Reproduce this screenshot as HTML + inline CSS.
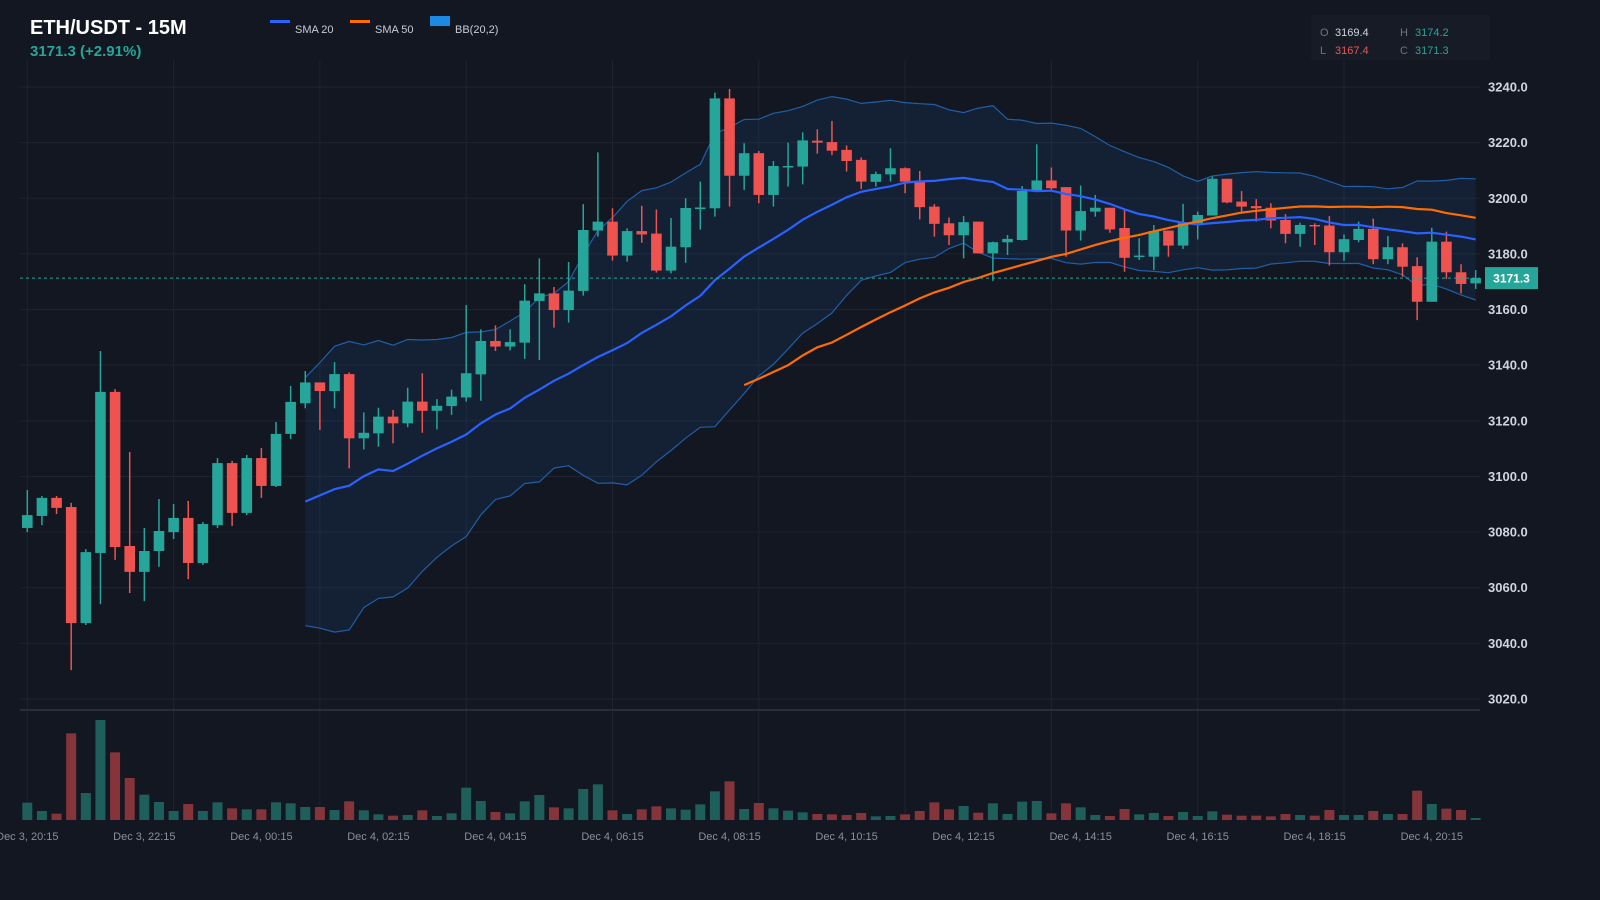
<!DOCTYPE html>
<html><head><meta charset="utf-8"><title>ETH/USDT - 15M</title>
<style>
html,body{margin:0;padding:0;background:#131722;}
svg{display:block;font-family:"Liberation Sans",sans-serif;}
</style></head>
<body>
<svg id="chart" width="1600" height="900" viewBox="0 0 1600 900">
<rect x="0" y="0" width="1600" height="900" fill="#131722"/>
<g id="grid"></g>
<g id="bands"></g>
<g id="volume"></g>
<g id="candles"></g>
<g id="lines"></g>
<g id="axes"></g>
<text x="30" y="34" fill="#ffffff" font-size="20" font-weight="bold">ETH/USDT - 15M</text>
<text x="30" y="56" fill="#26a69a" font-size="15" font-weight="bold">3171.3 (+2.91%)</text>
<g>
<g><rect x="270" y="20" width="20" height="3" fill="#2962ff"/><text x="295" y="33" fill="#c9ccd4" font-size="11">SMA 20</text></g>
<g><rect x="350" y="20" width="20" height="3" fill="#ff6d00"/><text x="375" y="33" fill="#c9ccd4" font-size="11">SMA 50</text></g>
<g><rect x="430" y="16" width="20" height="10" fill="#1e88e5"/><text x="455" y="33" fill="#c9ccd4" font-size="11">BB(20,2)</text></g>
</g>
<g>
<rect x="1311" y="15" width="179" height="45" fill="#171b26"/>
<text x="1320" y="36" fill="#6f7480" font-size="11">O</text><text x="1335" y="36" fill="#d1d4dc" font-size="11">3169.4</text>
<text x="1400" y="36" fill="#6f7480" font-size="11">H</text><text x="1415" y="36" fill="#26a69a" font-size="11">3174.2</text>
<text x="1320" y="54" fill="#6f7480" font-size="11">L</text><text x="1335" y="54" fill="#ef5350" font-size="11">3167.4</text>
<text x="1400" y="54" fill="#6f7480" font-size="11">C</text><text x="1415" y="54" fill="#26a69a" font-size="11">3171.3</text>
</g>
</svg>
<script>
const opens=[3081.5,3085.8,3092.3,3089.0,3047.3,3072.5,3130.4,3075.0,3065.7,3073.2,3080.0,3085.1,3068.9,3082.5,3104.8,3086.9,3106.6,3096.6,3115.3,3126.3,3133.8,3130.7,3136.8,3113.7,3115.5,3121.5,3119.1,3126.9,3123.6,3125.3,3128.4,3136.7,3148.7,3146.7,3148.1,3163.1,3165.8,3159.8,3166.7,3188.4,3191.6,3179.4,3188.2,3187.3,3174.0,3182.4,3196.1,3196.4,3235.9,3208.1,3216.2,3201.2,3211.1,3211.4,3220.7,3220.2,3217.4,3213.8,3205.9,3208.6,3210.8,3206.0,3197.0,3191.0,3186.7,3191.6,3180.2,3184.2,3185.0,3202.6,3206.4,3204.0,3188.4,3195.2,3196.6,3189.3,3179.0,3179.0,3188.4,3183.0,3191.0,3193.8,3207.0,3198.8,3197.2,3196.6,3192.2,3187.2,3190.4,3190.2,3180.6,3185.0,3189.0,3178.1,3182.4,3175.6,3162.8,3184.4,3173.4,3169.4];
const highs=[3095.1,3093.0,3093.0,3090.5,3073.9,3145.1,3131.4,3108.8,3081.5,3091.9,3090.1,3091.2,3083.6,3106.6,3105.6,3107.7,3110.2,3119.6,3132.5,3137.9,3133.8,3141.1,3137.4,3123.0,3124.7,3123.9,3131.9,3137.1,3127.8,3131.2,3161.6,3152.9,3154.3,3152.9,3169.1,3178.4,3168.1,3177.1,3197.9,3216.5,3196.4,3189.2,3197.3,3196.0,3192.9,3200.0,3206.0,3238.0,3239.3,3219.8,3217.0,3213.4,3220.0,3223.7,3224.8,3227.8,3219.0,3214.7,3209.6,3218.0,3211.1,3209.8,3197.9,3193.1,3193.6,3191.6,3184.4,3186.8,3204.4,3219.4,3211.1,3204.0,3204.6,3201.2,3196.6,3195.8,3185.6,3190.4,3188.4,3198.0,3195.2,3207.8,3207.0,3202.6,3199.7,3198.2,3194.3,3191.2,3191.0,3193.6,3187.0,3191.6,3192.7,3186.4,3183.8,3178.8,3189.4,3188.0,3176.3,3174.2];
const lows=[3080.0,3082.5,3086.5,3030.4,3046.6,3054.1,3070.0,3058.1,3055.2,3067.5,3077.5,3063.1,3068.2,3081.5,3082.2,3086.1,3092.3,3096.2,3113.5,3124.5,3116.7,3124.5,3102.9,3109.7,3110.7,3111.9,3117.7,3115.7,3116.9,3122.1,3126.9,3127.2,3145.1,3145.3,3142.3,3141.9,3153.5,3155.3,3165.0,3186.2,3177.6,3177.2,3184.0,3173.3,3173.0,3176.8,3188.7,3193.4,3197.0,3203.0,3198.2,3197.0,3204.2,3205.0,3216.0,3215.5,3209.6,3203.3,3204.2,3206.0,3201.8,3192.4,3186.2,3183.2,3178.4,3180.2,3170.3,3179.6,3184.8,3202.6,3203.0,3179.0,3184.8,3193.4,3187.6,3173.6,3177.8,3174.2,3179.0,3181.8,3185.2,3193.8,3198.2,3195.2,3191.6,3189.2,3183.8,3182.6,3183.2,3175.8,3177.5,3184.2,3176.3,3176.3,3171.8,3156.2,3162.8,3171.0,3165.8,3167.4];
const closes=[3086.1,3092.3,3088.7,3047.3,3072.8,3130.4,3074.6,3065.7,3073.2,3080.4,3085.1,3068.9,3082.9,3104.8,3086.9,3106.6,3096.6,3115.3,3126.8,3133.8,3130.7,3136.8,3113.7,3115.7,3121.5,3119.1,3126.9,3123.6,3125.4,3128.7,3137.1,3148.7,3146.7,3148.3,3163.2,3165.8,3159.8,3166.8,3188.6,3191.6,3179.4,3188.2,3187.0,3174.0,3182.6,3196.5,3196.7,3235.9,3208.1,3216.2,3201.2,3211.6,3211.6,3220.8,3220.0,3217.1,3213.4,3206.0,3208.7,3210.8,3206.0,3196.8,3190.8,3186.7,3191.4,3180.2,3184.2,3185.4,3202.6,3206.4,3203.6,3188.4,3195.4,3196.6,3188.8,3178.6,3179.4,3188.2,3183.0,3191.0,3194.0,3207.0,3198.5,3197.0,3196.4,3192.0,3187.2,3190.4,3190.0,3180.6,3185.3,3189.0,3178.1,3182.4,3175.4,3162.8,3184.4,3173.4,3169.2,3171.3];
const volumes=[52,27,19,260,81,300,203,126,76,54,27,48,27,53,35,32,32,53,50,39,39,30,56,29,17,13,15,29,12,20,97,57,24,20,56,75,38,35,93,107,29,18,32,41,35,31,47,86,116,33,51,35,28,23,18,17,15,21,11,12,17,27,53,32,42,22,50,18,55,57,20,50,38,15,12,33,17,21,12,24,12,26,16,13,13,11,18,15,13,30,15,15,27,18,18,88,48,34,30,6];
const priceTicks=[3020,3040,3060,3080,3100,3120,3140,3160,3180,3200,3220,3240];
const timeLabels=["Dec 3, 20:15","Dec 3, 22:15","Dec 4, 00:15","Dec 4, 02:15","Dec 4, 04:15","Dec 4, 06:15","Dec 4, 08:15","Dec 4, 10:15","Dec 4, 12:15","Dec 4, 14:15","Dec 4, 16:15","Dec 4, 18:15","Dec 4, 20:15"];
const lastPrice=3171.3;

const NS="http://www.w3.org/2000/svg";
const X0=27.3, DX=14.63;
function xAt(i){return X0+i*DX;}
function yAt(p){return 87+(3240-p)*2.7818;}
const VOL_BASE=820, VOL_H=100;
const vmax=Math.max(...volumes);
function vh(v){return v/vmax*VOL_H;}
function mk(tag,attrs,parent){const e=document.createElementNS(NS,tag);for(const k in attrs)e.setAttribute(k,attrs[k]);parent.appendChild(e);return e;}
const G=id=>document.getElementById(id);

// grid
const grid=G('grid');
priceTicks.forEach(p=>{
  const l=mk('line',{x1:20,x2:1480,y1:yAt(p),y2:yAt(p),stroke:'#1f2330','stroke-width':1},grid);
  
  
});
for(let i=0;i<closes.length;i+=10){
  const l=mk('line',{x1:xAt(i),x2:xAt(i),y1:60,y2:820,stroke:'#1f2330','stroke-width':1},grid);
  
  
}
const div=mk('line',{x1:20,x2:1480,y1:710,y2:710,stroke:'#2a2e39','stroke-width':2},grid);



// indicators
function sma(n){return closes.map((c,i)=>{if(i<n-1)return null;let s=0;for(let k=i-n+1;k<=i;k++)s+=closes[k];return s/n;});}
const s20=sma(20), s50=sma(50);
const up=[],lo=[];
closes.forEach((c,i)=>{if(s20[i]==null){up.push(null);lo.push(null);return;}let v=0;for(let k=i-19;k<=i;k++)v+=(closes[k]-s20[i])**2;const sd=Math.sqrt(v/20);up.push(s20[i]+2*sd);lo.push(s20[i]-2*sd);});
function pts(arr){const r=[];arr.forEach((v,i)=>{if(v!=null)r.push(xAt(i).toFixed(1)+','+yAt(v).toFixed(1));});return r;}
const bands=G('bands');
const upP=pts(up), loP=pts(lo);
const fill=mk('polygon',{points:upP.concat(loP.slice().reverse()).join(' '),fill:'rgba(30,130,230,0.09)'},bands);


const ub=mk('polyline',{points:upP.join(' '),fill:'none',stroke:'#1f5fa8','stroke-width':1.2},bands);


const lb=mk('polyline',{points:loP.join(' '),fill:'none',stroke:'#1f5fa8','stroke-width':1.2},bands);



// volume
const vol=G('volume');
volumes.forEach((v,i)=>{
  const upc=closes[i]>=opens[i];
  const r=mk('rect',{x:xAt(i)-5,y:VOL_BASE-vh(v),width:10,height:vh(v),fill:upc?'#1f5f5b':'#853439'},vol);
  
  
});

// candles
const cg=G('candles');
closes.forEach((c,i)=>{
  const o=opens[i], upc=c>=o, col=upc?'#26a69a':'#ef5350';
  const g=mk('g',{},cg);
  
  
  mk('line',{x1:xAt(i),x2:xAt(i),y1:yAt(highs[i]),y2:yAt(lows[i]),stroke:col,'stroke-width':1.5},g);
  const top=yAt(Math.max(o,c)), bot=yAt(Math.min(o,c));
  mk('rect',{x:xAt(i)-5.3,y:top,width:10.6,height:Math.max(1.5,bot-top),fill:col},g);
});

// MA lines
const lg=G('lines');
const l20=mk('polyline',{points:pts(s20).join(' '),fill:'none',stroke:'#2962ff','stroke-width':2.2},lg);


const l50=mk('polyline',{points:pts(s50).join(' '),fill:'none',stroke:'#ff6d00','stroke-width':2.2},lg);



// axes
const ax=G('axes');
priceTicks.forEach(p=>{
  const t=mk('text',{x:1488,y:yAt(p)+4.5,fill:'#d1d4dc','font-size':13,'font-weight':'bold'},ax);
  t.textContent=p.toFixed(1);
  
  
});
timeLabels.forEach((s,k)=>{
  const t=mk('text',{x:xAt(k*8),y:840,fill:'#8a8f9a','font-size':11,'text-anchor':'middle'},ax);
  t.textContent=s;
  
  
});
const pl=mk('line',{x1:20,x2:1480,y1:yAt(lastPrice),y2:yAt(lastPrice),stroke:'#26a69a','stroke-width':1,'stroke-dasharray':'3,3'},ax);


const pb=mk('rect',{x:1485,y:yAt(lastPrice)-11,width:53,height:22,fill:'#26a69a'},ax);


const pt=mk('text',{x:1511.5,y:yAt(lastPrice)+4.5,fill:'#ffffff','font-size':12,'font-weight':'bold','text-anchor':'middle'},ax);
pt.textContent=lastPrice.toFixed(1);


</script>
</body></html>
